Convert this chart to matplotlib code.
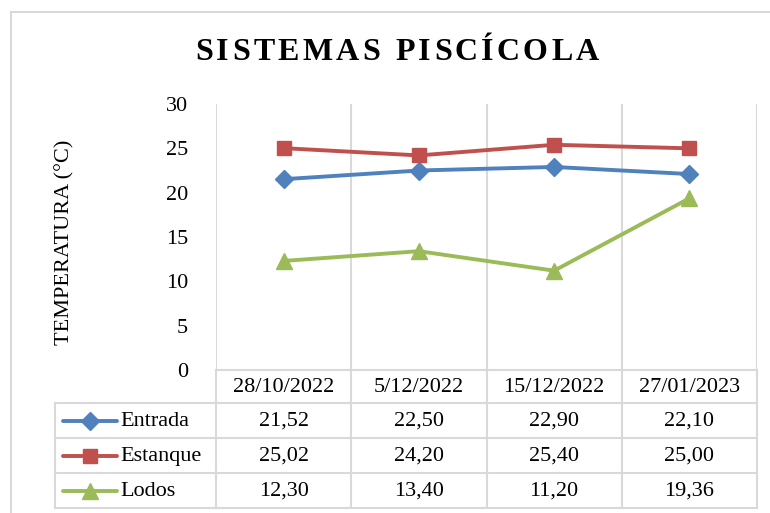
import matplotlib
matplotlib.use("Agg")
from matplotlib import pyplot as plt
from matplotlib.lines import Line2D

fechas = ["28/10/2022", "5/12/2022", "15/12/2022", "27/01/2023"]
series = ["Entrada", "Estanque", "Lodos"]
entrada = [21.52, 22.50, 22.90, 22.10]
estanque = [25.02, 24.20, 25.40, 25.00]
lodos = [12.30, 13.40, 11.20, 19.36]
yticks = [0, 5, 10, 15, 20, 25, 30]

colores = ["#4F81BD", "#C0504D", "#9BBB59"]
marcadores = ["D", "s", "^"]
tamanos = [9, 10, 11]
grid_c = "#D9D9D9"

plt.rcParams["font.family"] = ["Liberation Serif", "DejaVu Serif"]

W, H = 770, 513
fig = plt.figure(figsize=(W / 100, H / 100), dpi=100)

def px(x0, y0, x1, y1):
    return [x0 / W, 1 - y1 / H, (x1 - x0) / W, (y1 - y0) / H]

# marco exterior del grafico
fig.add_artist(Line2D([11 / W, 11 / W], [0, 1 - 12 / H], transform=fig.transFigure, color=grid_c, lw=1.5))
fig.add_artist(Line2D([11 / W, 1], [1 - 12 / H, 1 - 12 / H], transform=fig.transFigure, color=grid_c, lw=1.5))

ax = fig.add_axes(px(216, 104, 757, 370))
x = list(range(len(fechas)))
for vals, c, m, s, nombre in zip([entrada, estanque, lodos], colores, marcadores, tamanos, series):
    ax.plot(x, vals, color=c, lw=2.8, marker=m, markersize=s, label=nombre, zorder=3)
ax.set_xlim(-0.5, len(fechas) - 0.5)
ax.set_ylim(0, 30)
ax.set_yticks(yticks)
ax.set_yticklabels([str(v) for v in yticks], fontsize=16)
ax.tick_params(axis="y", length=0, pad=20)
ax.set_xticks([])
for sp in ax.spines.values():
    sp.set_visible(False)
for b in [i - 0.5 for i in range(len(fechas) + 1)]:
    ax.axvline(b, color=grid_c, lw=1.5, zorder=1)
ax.set_ylabel("TEMPERATURA (°C)", fontsize=16)
ax.yaxis.set_label_coords(-0.262, 0.48)

# titulo con espaciado entre letras
titulo = "SISTEMAS PISCÍCOLA"
renderer = fig.canvas.get_renderer()
espacio = 3.2
anchos = []
for ch in titulo:
    t = fig.text(0, 0, ch if ch != " " else "I", fontsize=23, fontweight="bold")
    w = t.get_window_extent(renderer).width
    if ch == " ":
        w *= 0.75
    anchos.append(w)
    t.remove()
total = sum(anchos) + espacio * (len(titulo) - 1)
xpos = 397 - total / 2
for ch, w in zip(titulo, anchos):
    if ch != " ":
        fig.text(xpos / W, 1 - 52 / H, ch, ha="left", va="center", fontsize=23, fontweight="bold")
    xpos += w + espacio

# tabla de datos
tab = fig.add_axes(px(216, 370, 757, 508))
tab.set_xlim(-0.5, len(fechas) - 0.5)
tab.set_ylim(508, 370)
tab.axis("off")
filas = [370, 403, 438, 473, 508]
izq = -0.5 - (216 - 55) / ((757 - 216) / len(fechas))
for b in [i - 0.5 for i in range(len(fechas) + 1)]:
    tab.plot([b, b], [370, 508], color=grid_c, lw=1.5, clip_on=False)
tab.plot([izq, izq], [403, 508], color=grid_c, lw=1.5, clip_on=False)
tab.plot([-0.5, len(fechas) - 0.5], [370, 370], color=grid_c, lw=1.5, clip_on=False)
for yf in filas[1:]:
    tab.plot([izq, len(fechas) - 0.5], [yf, yf], color=grid_c, lw=1.5, clip_on=False)
for i, f in enumerate(fechas):
    tab.text(i, (filas[0] + filas[1]) / 2 + 1, f, ha="center", va="center", fontsize=16)
for r, (vals, c, m, s, nombre) in enumerate(zip([entrada, estanque, lodos], colores, marcadores, tamanos, series)):
    yc = (filas[r + 1] + filas[r + 2]) / 2
    for i, v in enumerate(vals):
        tab.text(i, yc + 1, f"{v:.2f}".replace(".", ","), ha="center", va="center", fontsize=16)
    lx0 = izq + 0.06
    lx1 = izq + 0.46
    tab.plot([lx0, lx1], [yc, yc], color=c, lw=2.8, solid_capstyle="round", clip_on=False)
    tab.plot([(lx0 + lx1) / 2], [yc], color=c, marker=m, markersize=s, clip_on=False)
    tab.text(lx1 + 0.02, yc + 1, nombre, ha="left", va="center", fontsize=16)

fig.savefig("out.png", dpi=100)
